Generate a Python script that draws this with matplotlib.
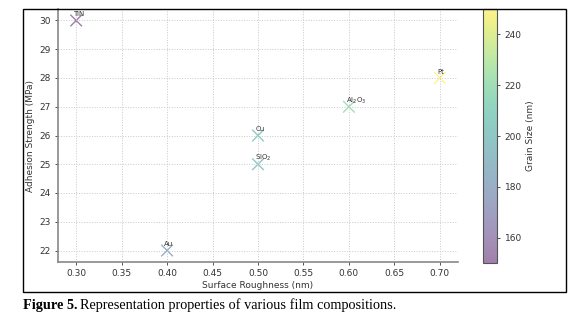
import matplotlib
matplotlib.use("Agg")
import matplotlib.pyplot as plt
from matplotlib.patches import Rectangle
from matplotlib.transforms import offset_copy

# data
labels = ["TiN", "Au", "Cu", r"SiO$_2$", r"Al$_2$O$_3$", "Pt"]
roughness = [0.3, 0.4, 0.5, 0.5, 0.6, 0.7]
adhesion = [30, 22, 26, 25, 27, 28]
grain_size = [150, 180, 205, 200, 220, 250]
xticks = [0.30, 0.35, 0.40, 0.45, 0.50, 0.55, 0.60, 0.65, 0.70]
yticks = [22, 23, 24, 25, 26, 27, 28, 29, 30]
cbar_ticks = [160, 180, 200, 220, 240]

fig = plt.figure(figsize=(5.87, 3.16), dpi=100)

# outer frame around the chart
fig.patches.append(Rectangle((23 / 587, 24 / 316), 543 / 587, 283 / 316,
                             transform=fig.transFigure, fill=False,
                             edgecolor="black", linewidth=1.0))

ax = fig.add_axes([58 / 587, 54 / 316, 400 / 587, 253 / 316])
cax = fig.add_axes([483 / 587, 53 / 316, 14 / 587, 254 / 316])

sc = ax.scatter(roughness, adhesion, c=grain_size, cmap="viridis",
                vmin=150, vmax=250, marker="x", s=70, alpha=0.5, linewidths=1.0)
for lab, x, y in zip(labels, roughness, adhesion):
    ax.annotate(lab, (x, y), xytext=(-2, 3), textcoords="offset points",
                fontsize=5, color="#333333")

ax.set_xlim(0.28, 0.72)
ax.set_ylim(21.6, 30.4)
ax.set_xticks(xticks)
ax.set_xticklabels([f"{t:.2f}" for t in xticks])
ax.set_yticks(yticks)
ax.set_xlabel("Surface Roughness (nm)", fontsize=6.5, color="#333333", labelpad=2)
ax.set_ylabel("Adhesion Strength (MPa)", fontsize=6.5, color="#333333", labelpad=3)
ax.tick_params(labelsize=6.5, colors="#333333", length=2, width=0.6, pad=3)
ax.grid(True, linestyle=":", color="#c8c8c8", linewidth=0.7)
for side in ("top", "right"):
    ax.spines[side].set_visible(False)
for side in ("left", "bottom"):
    ax.spines[side].set_color("#888888")
    ax.spines[side].set_linewidth(1.2)

cb = fig.colorbar(sc, cax=cax)
cb.solids.set_alpha(0.5)
cb.set_ticks(cbar_ticks)
cb.ax.tick_params(labelsize=6.5, colors="#333333", length=2, width=0.6)
cb.outline.set_edgecolor("#555555")
cb.set_label("Grain Size (nm)", fontsize=6.5, color="#333333", labelpad=3)

# caption: bold "Figure 5." followed by plain text
cap_y = 1 - 305 / 316
t1 = fig.text(23 / 587, cap_y, "Figure 5.", fontsize=10.3, fontweight="bold",
              family="Liberation Serif", va="center")
renderer = fig.canvas.get_renderer()
w = t1.get_window_extent(renderer).width
fig.text(23 / 587, cap_y, "Representation properties of various film compositions.",
         fontsize=10.3, family="Liberation Serif", va="center",
         transform=offset_copy(fig.transFigure, fig=fig, x=w + 3, y=0, units="dots"))

fig.savefig("out.png", dpi=100)
